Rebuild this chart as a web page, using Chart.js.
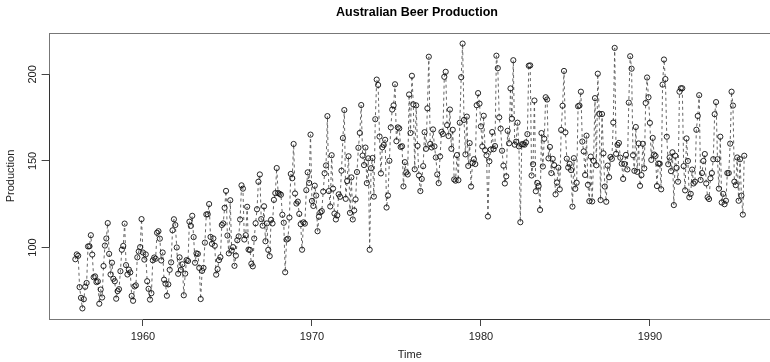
<!DOCTYPE html>
<html>
<head>
<meta charset="utf-8">
<script src="https://cdn.jsdelivr.net/npm/chart.js@4"></script>
<style>
html,body{margin:0;padding:0;background:#fff;overflow:hidden;}
#wrap{position:relative;width:834px;height:362px;}
</style>
</head>
<body>
<div id="wrap"><canvas id="c"></canvas></div>
<script>
// Monthly Australian beer production, Jan 1956 - Aug 1995
const startYear = 1956;
const production = [
93.2,96.0,95.2,77.1,70.9,64.8,70.1,77.3,79.5,100.6,100.7,107.1,
95.9,82.8,83.3,80.0,80.4,67.5,75.7,71.1,89.3,101.1,105.2,114.1,
96.3,84.4,91.2,81.9,80.5,70.4,74.8,75.9,86.3,98.7,100.9,113.8,
89.8,84.4,87.2,85.6,72.0,69.2,77.5,78.1,94.3,97.7,100.2,116.4,
97.1,93.0,96.0,80.5,76.1,69.9,73.6,92.6,94.2,93.5,108.5,109.4,
105.1,92.5,97.1,81.4,79.1,72.1,78.7,87.1,91.4,109.9,116.3,113.0,
100.0,84.8,94.3,87.1,90.3,72.4,84.9,92.7,92.2,114.9,112.5,118.3,
106.0,91.2,96.6,96.3,88.2,70.2,86.5,88.2,102.8,119.1,119.2,125.1,
106.1,102.1,105.2,101.0,84.3,87.5,92.7,94.4,113.0,113.9,122.9,132.7,
106.9,96.6,127.3,98.2,100.2,89.4,95.3,104.2,106.4,116.2,135.9,134.0,
104.6,107.1,123.5,98.8,98.6,90.6,89.1,105.2,114.0,122.1,138.0,142.2,
116.4,112.6,123.8,103.6,113.9,98.6,95.0,116.0,113.9,127.5,131.4,145.9,
131.5,131.0,130.5,118.9,114.3,85.7,104.6,105.1,117.3,142.5,140.0,159.8,
131.2,125.4,126.5,119.4,113.5,98.7,114.5,113.8,133.1,143.4,137.3,165.2,
126.9,124.0,135.7,130.0,109.4,117.8,120.3,121.0,132.3,142.9,147.4,175.9,
132.6,123.7,153.3,134.0,119.6,116.2,118.6,130.7,129.3,144.4,163.2,179.4,
128.1,138.4,152.7,120.0,140.5,116.2,121.4,127.8,143.6,157.6,166.2,182.3,
153.1,147.6,157.7,137.2,151.5,98.7,145.8,151.7,129.4,174.1,197.0,193.9,
164.1,142.8,157.9,159.2,162.2,123.1,130.0,150.1,169.4,179.7,182.1,194.3,
161.4,169.4,168.8,158.1,158.5,135.3,149.3,143.4,142.2,188.4,166.2,199.2,
182.7,145.2,182.1,158.7,141.6,132.6,139.6,147.0,166.6,157.0,180.4,210.2,
159.8,157.8,168.2,158.4,152.0,142.2,137.2,152.6,166.8,165.6,198.6,201.5,
170.7,164.4,179.7,157.0,168.0,139.3,138.6,153.4,138.9,172.1,198.4,217.8,
173.7,153.8,175.6,147.1,160.3,135.2,148.8,151.0,148.2,182.2,189.2,183.1,
170.0,158.4,176.1,156.2,153.2,117.9,149.8,156.6,166.7,156.8,158.6,210.8,
203.6,175.2,168.7,155.9,147.3,137.0,141.1,167.4,160.2,191.9,174.4,208.2,
159.4,161.1,172.1,158.4,114.6,159.6,159.7,159.4,160.7,165.5,205.0,205.2,
141.6,148.1,184.9,132.5,137.3,135.5,121.7,166.1,146.8,162.8,186.8,185.5,
151.5,158.1,143.0,151.2,147.6,130.7,137.5,146.1,133.6,167.9,181.9,202.0,
166.5,151.3,146.2,148.3,144.7,123.6,151.6,133.9,137.4,181.6,182.0,190.0,
161.2,155.5,141.9,164.6,136.2,126.8,152.5,126.6,150.1,186.3,147.5,200.4,
177.2,127.4,177.1,154.4,135.2,126.4,147.3,140.6,152.3,151.2,172.2,215.3,
154.1,159.3,160.4,151.9,148.4,139.6,148.2,153.5,145.1,183.7,210.5,203.3,
153.3,144.3,169.6,143.7,160.1,135.6,141.8,159.9,145.7,183.5,198.2,186.8,
172.0,150.6,163.3,153.7,152.9,135.5,148.5,148.4,133.6,194.1,208.6,197.3,
164.0,148.1,152.0,144.1,155.0,124.5,153.0,146.0,138.0,190.0,192.0,192.0,
147.0,133.0,163.0,150.0,129.0,131.0,145.0,137.0,138.0,168.0,176.0,188.0,
139.0,143.0,150.0,154.0,137.0,129.0,128.0,140.0,143.0,151.0,177.0,184.0,
151.0,134.0,164.0,126.0,131.0,125.0,127.0,143.0,143.0,160.0,190.0,182.0,
138.0,136.0,152.0,127.0,151.0,130.0,119.0,153.0
];
const xTicks = [1960, 1970, 1980, 1990];
const yTicks = [100, 150, 200];
const titleText = "Australian Beer Production";
const xTitle = "Time";
const yTitle = "Production";

const points = production.map((v, i) => ({x: startYear + i / 12, y: v}));
const xs = points.map(p => p.x);
const xMin0 = Math.min(...xs), xMax0 = Math.max(...xs);
const yMin0 = Math.min(...production), yMax0 = Math.max(...production);
const xPad = (xMax0 - xMin0) * 0.04, yPad = (yMax0 - yMin0) * 0.04;

const FONT = "'Liberation Sans', Arial, Helvetica, sans-serif";

const decor = {
  id: 'decor',
  afterDraw(chart) {
    const ctx = chart.ctx, a = chart.chartArea;
    const xs = chart.scales.x, ys = chart.scales.y;
    ctx.save();
    ctx.strokeStyle = '#777';
    ctx.lineWidth = 1;
    ctx.strokeRect(Math.round(a.left) + 0.5, Math.round(a.top) + 0.5,
                   Math.round(a.right - a.left), Math.round(a.bottom - a.top));
    ctx.strokeStyle = '#333';
    ctx.beginPath();
    const yb = Math.round(a.bottom) + 0.5;
    ctx.moveTo(xs.getPixelForValue(xTicks[0]), yb);
    ctx.lineTo(xs.getPixelForValue(xTicks[xTicks.length - 1]), yb);
    const xl = Math.round(a.left) + 0.5;
    ctx.moveTo(xl, ys.getPixelForValue(yTicks[0]));
    ctx.lineTo(xl, ys.getPixelForValue(yTicks[yTicks.length - 1]));
    ctx.stroke();
    ctx.fillStyle = '#222';
    ctx.font = '11px ' + FONT;
    ctx.textAlign = 'center';
    ctx.textBaseline = 'middle';
    yTicks.forEach(v => {
      const y = ys.getPixelForValue(v);
      ctx.save();
      ctx.translate(33, y);
      ctx.rotate(-Math.PI / 2);
      ctx.fillText(String(v), 0, 0);
      ctx.restore();
    });
    ctx.save();
    ctx.translate(11, (a.top + a.bottom) / 2);
    ctx.rotate(-Math.PI / 2);
    ctx.fillText(yTitle, 0, 0);
    ctx.restore();
    ctx.fillText(xTitle, (a.left + a.right) / 2, 355);
    ctx.font = 'bold 12.5px ' + FONT;
    ctx.fillStyle = '#000';
    ctx.fillText(titleText, 417, 13);
    ctx.restore();
  }
};

new Chart(document.getElementById('c'), {
  type: 'line',
  data: {
    datasets: [{
      data: points,
      borderColor: '#555',
      borderWidth: 0.9,
      borderDash: [3, 3],
      pointRadius: 2.6,
      pointBorderWidth: 0.9,
      pointBorderColor: '#111',
      pointBackgroundColor: 'rgba(0,0,0,0)',
      tension: 0,
      fill: false
    }]
  },
  options: {
    responsive: true,
    maintainAspectRatio: false,
    devicePixelRatio: 1,
    animation: false,
    events: [],
    layout: {padding: {top: 33, right: 63, left: 0, bottom: 0}},
    plugins: {legend: {display: false}, tooltip: {enabled: false}, title: {display: false}},
    scales: {
      x: {
        type: 'linear',
        min: xMin0 - xPad,
        max: xMax0 + xPad,
        afterBuildTicks: s => { s.ticks = xTicks.map(v => ({value: v})); },
        afterFit: s => { s.height = 43; },
        border: {display: false},
        grid: {display: true, drawOnChartArea: false, drawTicks: true, tickLength: 7, color: '#444', lineWidth: 1},
        ticks: {
          color: '#222', font: {family: FONT, size: 11}, padding: 4,
          maxRotation: 0, minRotation: 0, autoSkip: false,
          callback: v => String(v)
        }
      },
      y: {
        type: 'linear',
        min: yMin0 - yPad,
        max: yMax0 + yPad,
        afterBuildTicks: s => { s.ticks = yTicks.map(v => ({value: v})); },
        afterFit: s => { s.width = 48.6; },
        border: {display: false},
        grid: {display: true, drawOnChartArea: false, drawTicks: true, tickLength: 7, color: '#444', lineWidth: 1},
        ticks: {color: 'rgba(0,0,0,0)', font: {family: FONT, size: 11}, autoSkip: false}
      }
    }
  },
  plugins: [decor]
});
</script>
</body>
</html>
